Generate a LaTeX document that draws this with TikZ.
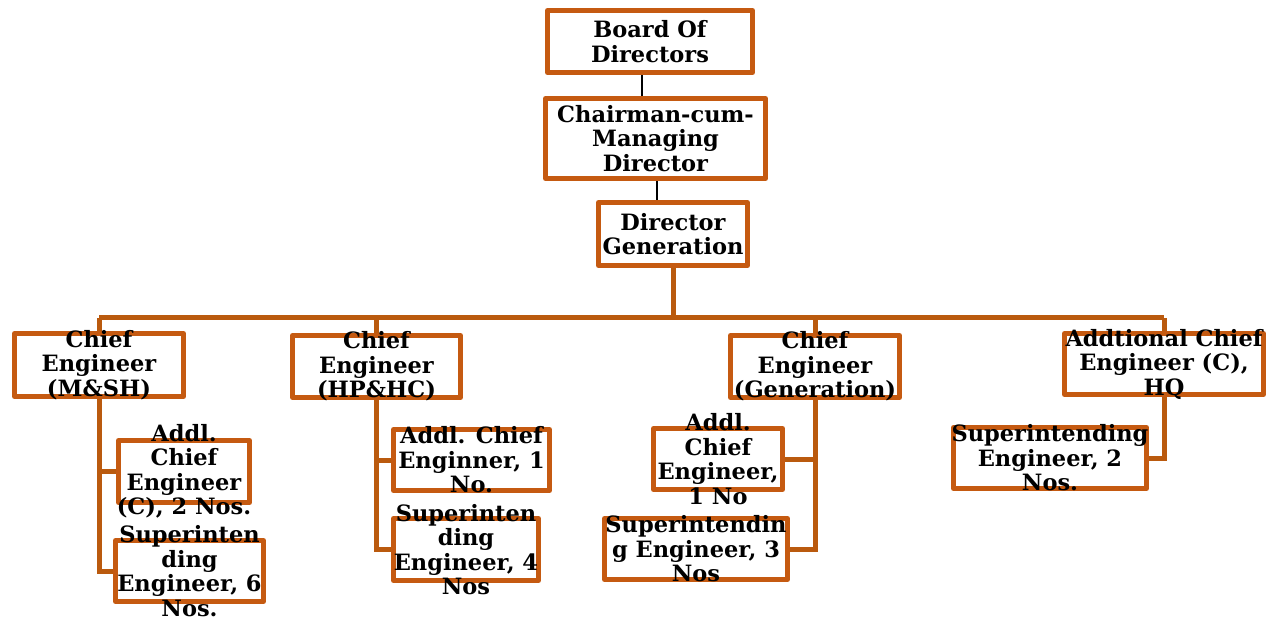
\documentclass[tikz,border=0pt]{standalone}
\usepackage{fontspec}
\setmainfont{DejaVu Serif}
\definecolor{org}{HTML}{C55A11}
\definecolor{orgd}{HTML}{BA5A0E}
\tikzset{
  box/.style={draw=org, line width=5pt, line join=round, fill=white, rectangle, inner sep=0pt},
  txt/.style={align=center, inner sep=0pt, font=\bfseries\fontsize{22.5}{24.5}\selectfont},
  conn/.style={draw=orgd, line width=5pt},
  thin/.style={draw=black, line width=2pt}
}
\begin{document}
\begin{tikzpicture}[x=1pt,y=-1pt]
\useasboundingbox (0,0) rectangle (1274,619);
% boxes
\node[box, minimum width=205pt, minimum height=62pt] (bod) at (650,41.5) {};
\node[box, minimum width=220pt, minimum height=80pt] (cmd) at (655.5,138.5) {};
\node[box, minimum width=149pt, minimum height=63pt] (dg) at (673,234) {};
\node[box, minimum width=169pt, minimum height=63pt] (ce1) at (99,365) {};
\node[box, minimum width=168pt, minimum height=62pt] (ce2) at (376.5,366.5) {};
\node[box, minimum width=169pt, minimum height=62pt] (ce3) at (815,366.5) {};
\node[box, minimum width=199pt, minimum height=61pt] (ce4) at (1164,364) {};
\node[box, minimum width=131pt, minimum height=62pt] (a1) at (184,471.5) {};
\node[box, minimum width=148pt, minimum height=61pt] (s1) at (189.5,571) {};
\node[box, minimum width=156pt, minimum height=61pt] (a2) at (471.5,460) {};
\node[box, minimum width=145pt, minimum height=62pt] (s2) at (466,549.5) {};
\node[box, minimum width=129pt, minimum height=61pt] (a3) at (718,459) {};
\node[box, minimum width=183pt, minimum height=61pt] (s3) at (696,549) {};
\node[box, minimum width=193pt, minimum height=61pt] (s4) at (1050,458) {};
\coordinate (bus) at (673,317.5);
% connectors
\draw[thin] ([xshift=-8pt]bod.south) -- ([xshift=-8pt]bod.south |- cmd.north);
\draw[thin] ([xshift=1.5pt]cmd.south) -- ([xshift=1.5pt]cmd.south |- dg.north);
\draw[conn] (dg.south) -- (bus);
\draw[conn] (ce1.north |- bus) -- (ce4.north |- bus);
\draw[conn] (ce1.north) -- (ce1.north |- bus);
\draw[conn] (ce2.north) -- (ce2.north |- bus);
\draw[conn] (ce3.north) -- (ce3.north |- bus);
\draw[conn] (ce4.north) -- (ce4.north |- bus);
\draw[conn] (ce1.south) |- (a1.west);
\draw[conn] (ce1.south) |- (s1.west);
\draw[conn] (ce2.south) |- (a2.west);
\draw[conn] (ce2.south) |- (s2.west);
\draw[conn] (ce3.south) |- (a3.east);
\draw[conn] (ce3.south) |- (s3.east);
\draw[conn] (ce4.south) |- (s4.east);
% texts
\node[txt] (bodt) at (bod) {Board Of\\Directors};
\node[txt] (cmdt) at (cmd) {Chairman-cum-\\Managing\\Director};
\node[txt] (dgt) at (dg) {Director\\Generation};
\node[txt] (ce1t) at (ce1) {Chief\\Engineer\\(M\&SH)};
\node[txt] (ce2t) at (ce2) {Chief\\Engineer\\(HP\&HC)};
\node[txt] (ce3t) at (ce3) {Chief\\Engineer\\(Generation)};
\node[txt] (ce4t) at (ce4) {Addtional Chief\\Engineer (C),\\HQ};
\node[txt] (a1t) at (a1) {Addl.\\Chief\\Engineer\\(C), 2 Nos.};
\node[txt] (s1t) at (s1) {Superinten\\ding\\Engineer, 6\\Nos.};
\node[txt] (a2t) at (a2) {Addl. Chief\\Enginner, 1\\No.};
\node[txt] (s2t) at (s2) {Superinten\\ding\\Engineer, 4\\Nos};
\node[txt] (a3t) at (a3) {Addl.\\Chief\\Engineer,\\1 No};
\node[txt] (s3t) at (s3) {Superintendin\\g Engineer, 3\\Nos};
\node[txt] (s4t) at (s4) {Superintending\\Engineer, 2\\Nos.};
\end{tikzpicture}
\end{document}
